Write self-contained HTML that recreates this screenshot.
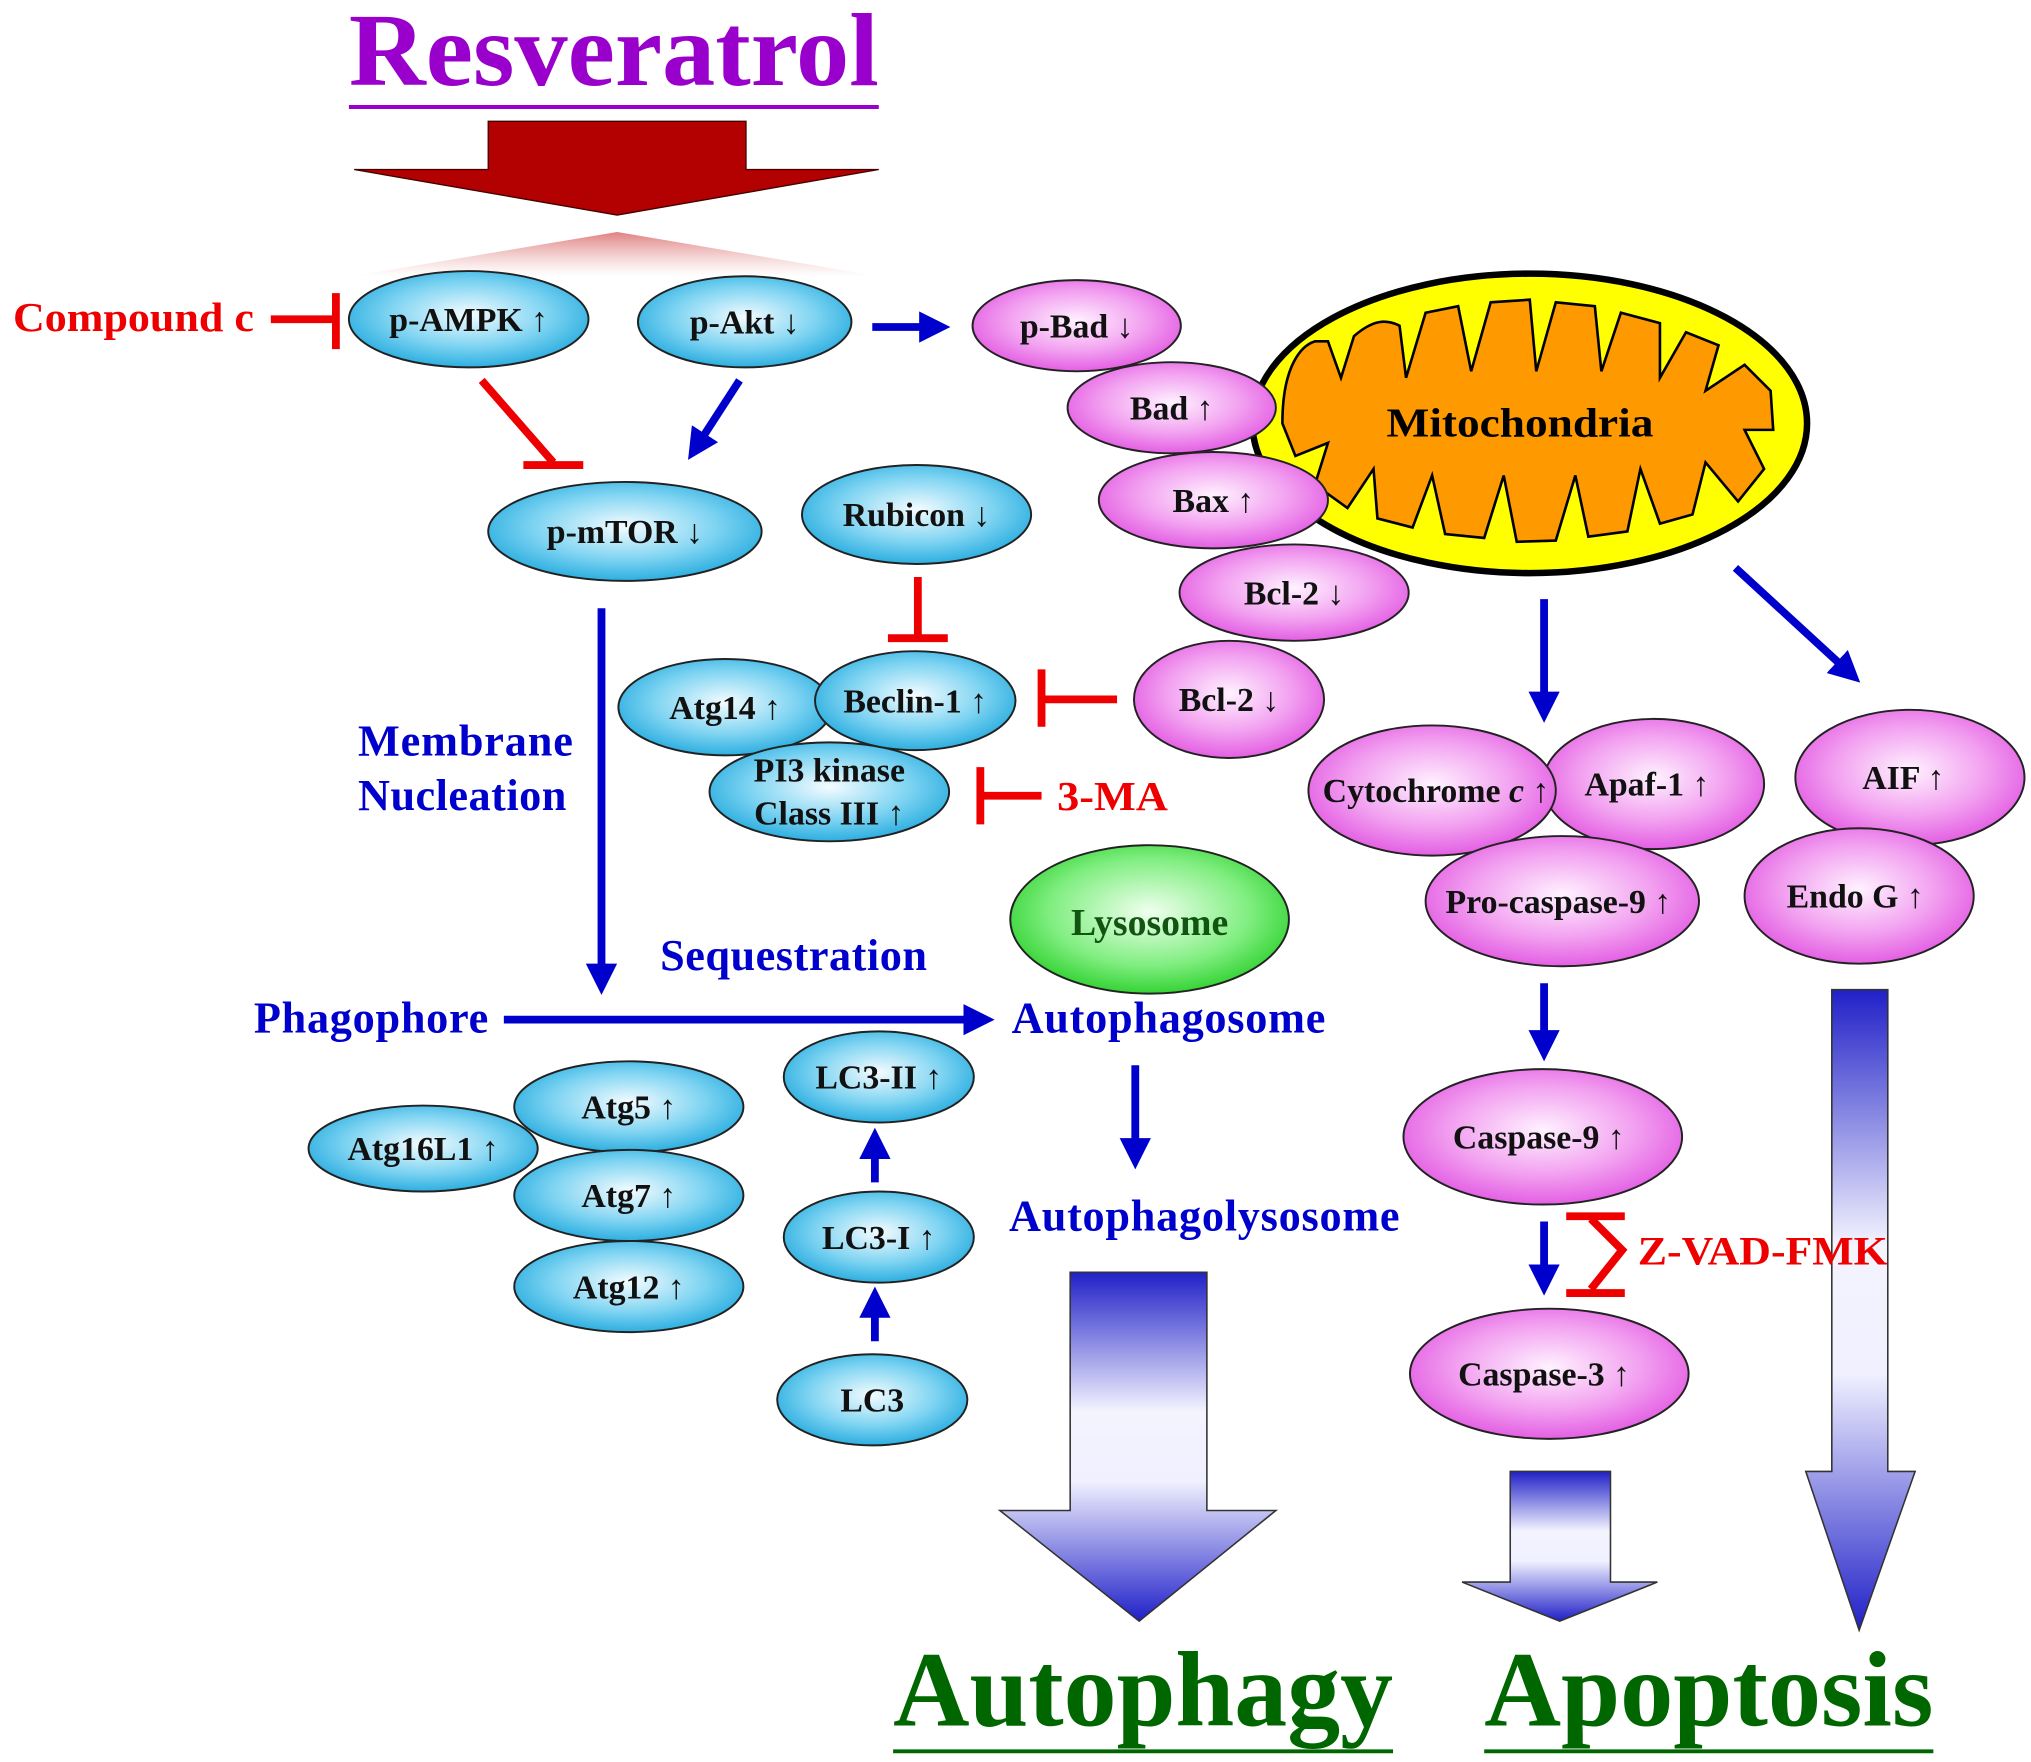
<!DOCTYPE html>
<html><head><meta charset="utf-8"><style>
html,body{margin:0;padding:0;background:#fff;}
svg{display:block;}
text{font-family:"Liberation Serif",serif;font-weight:bold;}
</style></head><body>
<svg width="2031" height="1762" viewBox="0 0 1560 1353" xmlns="http://www.w3.org/2000/svg">
<defs>
<radialGradient id="bl" cx="50%" cy="45%" r="60%"><stop offset="0" stop-color="#f4fcff"/><stop offset="0.55" stop-color="#7fd4f2"/><stop offset="1" stop-color="#1aa6dc"/></radialGradient>
<radialGradient id="pk" cx="50%" cy="45%" r="60%"><stop offset="0" stop-color="#fff2ff"/><stop offset="0.55" stop-color="#f2a0f0"/><stop offset="1" stop-color="#e050e0"/></radialGradient>
<radialGradient id="gr" cx="50%" cy="45%" r="60%"><stop offset="0" stop-color="#f0fff0"/><stop offset="0.6" stop-color="#80ee80"/><stop offset="1" stop-color="#22cc22"/></radialGradient>
<linearGradient id="fade" x1="0" y1="0" x2="0" y2="1"><stop offset="0" stop-color="#e08080"/><stop offset="1" stop-color="#fff" stop-opacity="0.6"/></linearGradient>
<linearGradient id="bg" x1="0" y1="0" x2="0" y2="1"><stop offset="0" stop-color="#2020c8"/><stop offset="0.4" stop-color="#f4f4ff"/><stop offset="0.6" stop-color="#f0f0ff"/><stop offset="1" stop-color="#2020c8"/></linearGradient>
<marker id="ab" markerWidth="4" markerHeight="4" refX="2" refY="2" orient="auto" markerUnits="strokeWidth"><path d="M0,0 L4,2 L0,4 z" fill="#0000cc"/></marker>
</defs>

<text x="268" y="65" font-size="80" fill="#9900cc" textLength="407" lengthAdjust="spacingAndGlyphs">Resveratrol</text>
<line x1="268" y1="82" x2="675" y2="82" stroke="#9900cc" stroke-width="3"/>
<path d="M375,93 H573 V130 H675 L474,165 L272,130 H375 Z" fill="#b30000" stroke="#400" stroke-width="1"/>
<path d="M474,178 L675,212 L270,212 Z" fill="url(#fade)"/>

<g stroke="#0000cc" stroke-width="6" fill="none" marker-end="url(#ab)">
<line x1="568" y1="292" x2="535" y2="343"/>
<line x1="670" y1="251" x2="718" y2="251"/>
<line x1="462" y1="467" x2="462" y2="752"/>
<line x1="387" y1="783" x2="752" y2="783"/>
<line x1="872" y1="818" x2="872" y2="886"/>
<line x1="672" y1="1030" x2="672" y2="1000"/>
<line x1="672" y1="908" x2="672" y2="878"/>
<line x1="1186" y1="460" x2="1186" y2="543"/>
<line x1="1333" y1="436" x2="1420" y2="516"/>
<line x1="1186" y1="755" x2="1186" y2="803"/>
<line x1="1186" y1="938" x2="1186" y2="983"/>
</g>

<g stroke="#333" stroke-width="1.2" fill="url(#bg)">
<path d="M822,977 H927 V1160 H980 L875,1245 L768,1160 H822 Z"/>
<path d="M1160,1130 H1237 V1215 H1273 L1198,1245 L1123,1215 H1160 Z"/>
<path d="M1407,760 H1450 V1130 H1471 L1428,1252 L1387,1130 H1407 Z"/>
</g>

<g stroke="#ee0000" stroke-width="6" fill="none">
<line x1="208" y1="245" x2="258" y2="245"/><line x1="258" y1="225" x2="258" y2="268"/>
<line x1="370" y1="292" x2="425" y2="355"/><line x1="402" y1="357" x2="448" y2="357"/>
<line x1="705" y1="443" x2="705" y2="488"/><line x1="682" y1="490" x2="728" y2="490"/>
<line x1="858" y1="537" x2="800" y2="537"/><line x1="800" y1="514" x2="800" y2="558"/>
<line x1="800" y1="611" x2="753" y2="611"/><line x1="753" y1="589" x2="753" y2="633"/>
<line x1="1203" y1="934" x2="1248" y2="934"/><line x1="1203" y1="993" x2="1248" y2="993"/>
<polyline points="1222,936 1246,960 1222,990"/>
</g>
<text x="10" y="254" font-size="32" fill="#ee0000" textLength="185" lengthAdjust="spacingAndGlyphs">Compound c</text>
<text x="812" y="622" font-size="32" fill="#ee0000" textLength="85" lengthAdjust="spacingAndGlyphs">3-MA</text>
<text x="1258" y="971" font-size="31" fill="#ee0000" textLength="192" lengthAdjust="spacingAndGlyphs">Z-VAD-FMK</text>

<g font-size="34" fill="#0000cc" lengthAdjust="spacingAndGlyphs">
<text x="275" y="580" textLength="165">Membrane</text>
<text x="275" y="622" textLength="160">Nucleation</text>
<text x="507" y="745" textLength="205">Sequestration</text>
<text x="195" y="793" textLength="180">Phagophore</text>
<text x="777" y="793" textLength="241">Autophagosome</text>
<text x="775" y="945" textLength="300">Autophagolysosome</text>
</g>

<!-- mitochondria -->
<ellipse cx="1175" cy="325" rx="213" ry="115" fill="#ffff00" stroke="#000" stroke-width="5"/>
<path d="M985,325 C985,280 1000,265 1010,262 L1020,262 L1030,290 L1040,258 C1055,245 1065,245 1075,250 L1080,290 L1095,240 L1120,235 L1130,285 L1145,232 L1175,230 L1180,285 L1195,232 L1225,235 L1230,285 L1245,240 L1275,248 L1275,290 L1295,255 L1320,265 L1310,300 L1340,280 L1360,300 L1362,330 L1340,330 L1355,360 L1335,385 L1310,355 L1300,395 L1275,402 L1260,360 L1250,408 L1220,412 L1210,365 L1195,415 L1165,416 L1155,365 L1140,413 L1110,410 L1100,365 L1085,405 L1058,398 L1055,360 L1035,390 L1010,372 L1020,340 L995,350 Z" fill="#ff9900" stroke="#000" stroke-width="2"/>
<text x="1065" y="335" font-size="32" fill="#000" textLength="205" lengthAdjust="spacingAndGlyphs">Mitochondria</text>

<g stroke="#222" stroke-width="1.5">
<ellipse cx="360" cy="245" rx="92" ry="37" fill="url(#bl)"/>
<ellipse cx="572" cy="247" rx="82" ry="35" fill="url(#bl)"/>
<ellipse cx="480" cy="408" rx="105" ry="38" fill="url(#bl)"/>
<ellipse cx="704" cy="395" rx="88" ry="38" fill="url(#bl)"/>
<ellipse cx="557" cy="543" rx="82" ry="37" fill="url(#bl)"/>
<ellipse cx="637" cy="608" rx="92" ry="38" fill="url(#bl)"/>
<ellipse cx="703" cy="538" rx="77" ry="38" fill="url(#bl)"/>
<ellipse cx="325" cy="882" rx="88" ry="33" fill="url(#bl)"/>
<ellipse cx="483" cy="850" rx="88" ry="35" fill="url(#bl)"/>
<ellipse cx="483" cy="918" rx="88" ry="35" fill="url(#bl)"/>
<ellipse cx="483" cy="988" rx="88" ry="35" fill="url(#bl)"/>
<ellipse cx="675" cy="827" rx="73" ry="35" fill="url(#bl)"/>
<ellipse cx="675" cy="950" rx="73" ry="35" fill="url(#bl)"/>
<ellipse cx="670" cy="1075" rx="73" ry="35" fill="url(#bl)"/>
<ellipse cx="883" cy="706" rx="107" ry="57" fill="url(#gr)"/>
<ellipse cx="827" cy="250" rx="80" ry="35" fill="url(#pk)"/>
<ellipse cx="900" cy="313" rx="80" ry="35" fill="url(#pk)"/>
<ellipse cx="932" cy="384" rx="88" ry="37" fill="url(#pk)"/>
<ellipse cx="994" cy="455" rx="88" ry="37" fill="url(#pk)"/>
<ellipse cx="944" cy="537" rx="73" ry="45" fill="url(#pk)"/>
<ellipse cx="1270" cy="602" rx="85" ry="50" fill="url(#pk)"/>
<ellipse cx="1100" cy="607" rx="95" ry="50" fill="url(#pk)"/>
<ellipse cx="1200" cy="692" rx="105" ry="50" fill="url(#pk)"/>
<ellipse cx="1467" cy="597" rx="88" ry="52" fill="url(#pk)"/>
<ellipse cx="1428" cy="688" rx="88" ry="52" fill="url(#pk)"/>
<ellipse cx="1185" cy="873" rx="107" ry="52" fill="url(#pk)"/>
<ellipse cx="1190" cy="1055" rx="107" ry="50" fill="url(#pk)"/>
</g>

<g font-size="26" fill="#111" text-anchor="middle">
<text x="360" y="254">p-AMPK ↑</text>
<text x="572" y="256">p-Akt ↓</text>
<text x="480" y="417">p-mTOR ↓</text>
<text x="704" y="404">Rubicon ↓</text>
<text x="557" y="552">Atg14 ↑</text>
<text x="703" y="547">Beclin-1 ↑</text>
<text x="637" y="600">PI3 kinase</text>
<text x="637" y="633">Class III ↑</text>
<text x="325" y="891">Atg16L1 ↑</text>
<text x="483" y="859">Atg5 ↑</text>
<text x="483" y="927">Atg7 ↑</text>
<text x="483" y="997">Atg12 ↑</text>
<text x="675" y="836">LC3-II ↑</text>
<text x="675" y="959">LC3-I ↑</text>
<text x="670" y="1084">LC3</text>
<text x="883" y="718" font-size="29" fill="#115511">Lysosome</text>
<text x="827" y="259">p-Bad ↓</text>
<text x="900" y="322">Bad ↑</text>
<text x="932" y="393">Bax ↑</text>
<text x="994" y="464">Bcl-2 ↓</text>
<text x="944" y="546">Bcl-2 ↓</text>
<text x="1103" y="616">Cytochrome <tspan font-style="italic">c</tspan> ↑</text>
<text x="1265" y="611">Apaf-1 ↑</text>
<text x="1197" y="701">Pro-caspase-9 ↑</text>
<text x="1462" y="606">AIF ↑</text>
<text x="1425" y="697">Endo G ↑</text>
<text x="1182" y="882">Caspase-9 ↑</text>
<text x="1186" y="1064">Caspase-3 ↑</text>
</g>

<text x="686" y="1325" font-size="82" fill="#006600" textLength="384" lengthAdjust="spacingAndGlyphs">Autophagy</text>
<line x1="686" y1="1345" x2="1070" y2="1345" stroke="#006600" stroke-width="3"/>
<text x="1140" y="1325" font-size="82" fill="#006600" textLength="345" lengthAdjust="spacingAndGlyphs">Apoptosis</text>
<line x1="1140" y1="1345" x2="1485" y2="1345" stroke="#006600" stroke-width="3"/>
</svg>
</body></html>
